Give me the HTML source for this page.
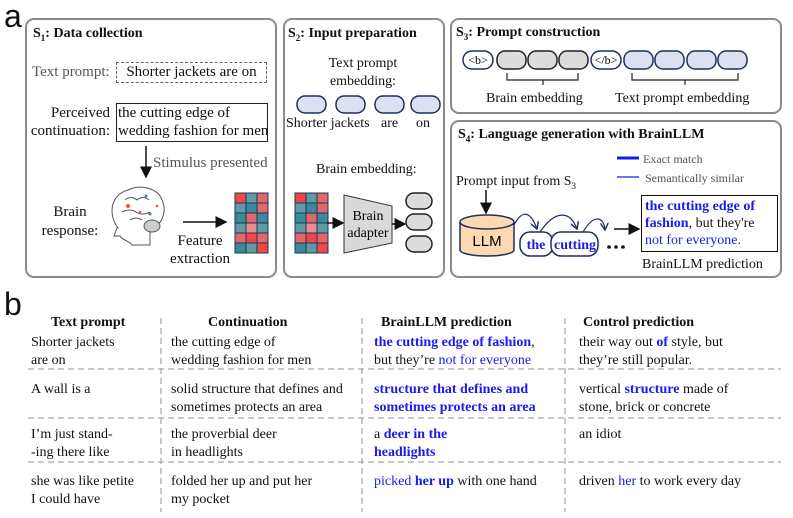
<!DOCTYPE html>
<html><head><meta charset="utf-8"><style>
body{margin:0;width:793px;height:518px;background:#fff;position:relative;overflow:hidden;font-family:"Liberation Serif",serif;color:#111}
.a{position:absolute;white-space:nowrap;font-size:14px;line-height:16px}
.p{position:absolute;border:2px solid #8a8a8a;border-radius:9px;box-sizing:border-box}
.b{font-weight:bold}
.bl{color:#1a1aee}
.g{color:#555}
.s1{font-size:15px}
</style></head><body>
<div class="a" style="left:4px;top:0px;font-family:'Liberation Sans',sans-serif;font-size:32px;line-height:32px">a</div>
<div class="a" style="left:4px;top:288px;font-family:'Liberation Sans',sans-serif;font-size:32px;line-height:32px">b</div>
<div class="p" style="left:25px;top:18px;width:252px;height:260px"></div>
<div class="p" style="left:283px;top:18px;width:162px;height:260px"></div>
<div class="p" style="left:450px;top:18px;width:332px;height:96px"></div>
<div class="p" style="left:450px;top:120px;width:332px;height:158px"></div>

<!-- S1 -->
<div class="a b" style="left:33px;top:26px">S<sub style="font-size:9px">1</sub>: Data collection</div>
<div class="a g s1" style="left:32px;top:64px">Text prompt:</div>
<div class="a s1" style="left:116px;top:62px;width:151px;height:21px;border:1.5px dashed #666;box-sizing:border-box;text-align:center;line-height:18px">Shorter jackets are on</div>
<div class="a s1" style="left:26px;top:104px;width:84px;text-align:right;line-height:18px">Perceived<br>continuation:</div>
<div class="a s1" style="left:116px;top:103px;width:152px;height:39px;border:1.5px solid #222;box-sizing:border-box;padding-left:1px;line-height:18px">the cutting edge of<br>wedding fashion for men</div>
<div class="a g s1" style="left:153px;top:155px">Stimulus presented</div>
<div class="a s1" style="left:36px;top:203px;width:68px;text-align:center;line-height:19px">Brain<br>response:</div>
<div class="a s1" style="left:170px;top:232px;width:60px;text-align:center;line-height:18px">Feature<br>extraction</div>

<!-- S2 -->
<div class="a b" style="left:288px;top:26px">S<sub style="font-size:9px">2</sub>: Input preparation</div>
<div class="a" style="left:300px;top:55px;width:126px;text-align:center;line-height:18px">Text prompt<br>embedding:</div>
<div class="a" style="left:286px;top:116px">Shorter jackets</div>
<div class="a" style="left:381px;top:116px">are</div>
<div class="a" style="left:416px;top:116px">on</div>
<div class="a" style="left:316px;top:162px">Brain embedding:</div>

<!-- S3 -->
<div class="a b" style="left:456px;top:25px">S<sub style="font-size:9px">3</sub>: Prompt construction</div>
<div class="a" style="left:486px;top:91px">Brain embedding</div>
<div class="a" style="left:615px;top:91px">Text prompt embedding</div>

<!-- S4 -->
<div class="a b" style="left:458px;top:127px">S<sub style="font-size:9px">4</sub>: Language generation with BrainLLM</div>
<div class="a g" style="left:643px;top:151px;font-size:12px">Exact match</div>
<div class="a g" style="left:645px;top:170px;font-size:12px">Semantically similar</div>
<div class="a" style="left:456px;top:174px">Prompt input from S<sub style="font-size:9px">3</sub></div>
<div class="a" style="left:641px;top:195px;width:137px;height:57px;border:1.5px solid #111;box-sizing:border-box;padding:2px 0 0 3px;line-height:17px"><span class="bl b">the cutting edge of<br>fashion</span>, but they're<br><span class="bl">not for everyone.</span></div>
<div class="a" style="left:642px;top:257px">BrainLLM prediction</div>

<svg style="position:absolute;left:0;top:0" width="793" height="518">
<defs><marker id="ar" markerWidth="8" markerHeight="8" refX="7" refY="4" orient="auto"><path d="M0,0 L8,4 L0,8 z" fill="#111"/></marker>
<marker id="ar2" markerWidth="7" markerHeight="7" refX="6" refY="3.5" orient="auto"><path d="M0,0 L6,3.5 L0,7" fill="none" stroke="#1f2f5a" stroke-width="1.2"/></marker></defs>
<line x1="146" y1="146" x2="146" y2="177" stroke="#111" stroke-width="1.5" marker-end="url(#ar)"/>
<line x1="183" y1="222" x2="226" y2="222" stroke="#111" stroke-width="1.5" marker-end="url(#ar)"/>
<!-- brain -->
<g fill="none" stroke="#555" stroke-width="1">
<path d="M118,228 C108,215 110,195 128,190 C140,184 158,188 162,200 C168,212 160,228 150,230 L150,245 L132,245 C128,240 122,240 120,236 L114,236 L117,228 Z"/>
<path d="M125,200 q6,-5 12,0 q6,-5 12,0 M122,212 q8,-4 14,0 q6,4 14,0 M130,220 q6,-4 12,0"/>
<ellipse cx="152" cy="226" rx="8" ry="6" fill="#ccc"/>
</g>
<g><circle cx="128" cy="206" r="2" fill="#f05040"/><circle cx="146" cy="196" r="1.5" fill="#3a8a99"/><circle cx="150" cy="214" r="1.5" fill="#3a8a99"/><circle cx="140" cy="212" r="1.3" fill="#f05040"/><circle cx="157" cy="206" r="1.3" fill="#f05040"/></g>
<!-- grids -->
<g stroke="#1f3555" stroke-width="1">
<rect x="235" y="193" width="11" height="10" fill="#f04848"/><rect x="246" y="193" width="11" height="10" fill="#5f9aa5"/><rect x="257" y="193" width="11" height="10" fill="#e06868"/>
<rect x="235" y="203" width="11" height="10" fill="#5f9aa5"/><rect x="246" y="203" width="11" height="10" fill="#3a8a99"/><rect x="257" y="203" width="11" height="10" fill="#e06868"/>
<rect x="235" y="213" width="11" height="10" fill="#3a8a99"/><rect x="246" y="213" width="11" height="10" fill="#e06868"/><rect x="257" y="213" width="11" height="10" fill="#3a8a99"/>
<rect x="235" y="223" width="11" height="10" fill="#5f9aa5"/><rect x="246" y="223" width="11" height="10" fill="#e89090"/><rect x="257" y="223" width="11" height="10" fill="#5f9aa5"/>
<rect x="235" y="233" width="11" height="10" fill="#e06868"/><rect x="246" y="233" width="11" height="10" fill="#f04848"/><rect x="257" y="233" width="11" height="10" fill="#e06868"/>
<rect x="235" y="243" width="11" height="10" fill="#3a8a99"/><rect x="246" y="243" width="11" height="10" fill="#5f9aa5"/><rect x="257" y="243" width="11" height="10" fill="#f04848"/>
</g>
<g stroke="#1f3555" stroke-width="1" transform="translate(60,0)">
<rect x="235" y="193" width="11" height="10" fill="#f04848"/><rect x="246" y="193" width="11" height="10" fill="#5f9aa5"/><rect x="257" y="193" width="11" height="10" fill="#e06868"/>
<rect x="235" y="203" width="11" height="10" fill="#5f9aa5"/><rect x="246" y="203" width="11" height="10" fill="#3a8a99"/><rect x="257" y="203" width="11" height="10" fill="#e06868"/>
<rect x="235" y="213" width="11" height="10" fill="#3a8a99"/><rect x="246" y="213" width="11" height="10" fill="#e06868"/><rect x="257" y="213" width="11" height="10" fill="#3a8a99"/>
<rect x="235" y="223" width="11" height="10" fill="#5f9aa5"/><rect x="246" y="223" width="11" height="10" fill="#e89090"/><rect x="257" y="223" width="11" height="10" fill="#5f9aa5"/>
<rect x="235" y="233" width="11" height="10" fill="#e06868"/><rect x="246" y="233" width="11" height="10" fill="#f04848"/><rect x="257" y="233" width="11" height="10" fill="#e06868"/>
<rect x="235" y="243" width="11" height="10" fill="#3a8a99"/><rect x="246" y="243" width="11" height="10" fill="#5f9aa5"/><rect x="257" y="243" width="11" height="10" fill="#f04848"/>
</g>
<!-- S2 pills -->
<g fill="#dde0f0" stroke="#1f2f5a" stroke-width="1.5">
<rect x="297" y="96" width="29" height="17" rx="8"/><rect x="336" y="96" width="29" height="17" rx="8"/><rect x="375" y="96" width="29" height="17" rx="8"/><rect x="411" y="96" width="29" height="17" rx="8"/>
</g>
<line x1="327" y1="223" x2="343" y2="223" stroke="#111" stroke-width="1.5" marker-end="url(#ar)"/>
<polygon points="344,195 392,206 392,243 344,253" fill="#d9d9d9" stroke="#333" stroke-width="1"/>
<text x="368" y="220" font-size="14" text-anchor="middle" font-family="Liberation Serif">Brain</text>
<text x="368" y="237" font-size="14" text-anchor="middle" font-family="Liberation Serif">adapter</text>
<line x1="392" y1="224" x2="405" y2="224" stroke="#111" stroke-width="1.5" marker-end="url(#ar)"/>
<g fill="#dcdcdc" stroke="#222" stroke-width="1.5">
<rect x="406" y="193" width="26" height="16" rx="8"/><rect x="406" y="214" width="26" height="16" rx="8"/><rect x="406" y="236" width="26" height="16" rx="8"/>
</g>
<!-- S3 -->
<g stroke-width="1.5">
<rect x="463" y="51" width="30" height="18" rx="9" fill="#fff" stroke="#1f2f5a"/>
<rect x="497" y="51" width="29" height="18" rx="8" fill="#dcdcdc" stroke="#222"/>
<rect x="528" y="51" width="29" height="18" rx="8" fill="#dcdcdc" stroke="#222"/>
<rect x="559" y="51" width="29" height="18" rx="8" fill="#dcdcdc" stroke="#222"/>
<rect x="591" y="51" width="30" height="18" rx="9" fill="#fff" stroke="#1f2f5a"/>
<rect x="624" y="51" width="29" height="18" rx="8" fill="#dde0f0" stroke="#1f2f5a"/>
<rect x="655" y="51" width="29" height="18" rx="8" fill="#dde0f0" stroke="#1f2f5a"/>
<rect x="687" y="51" width="29" height="18" rx="8" fill="#dde0f0" stroke="#1f2f5a"/>
<rect x="718" y="51" width="29" height="18" rx="8" fill="#dde0f0" stroke="#1f2f5a"/>
</g>
<text x="478" y="64" font-size="12" text-anchor="middle" font-family="Liberation Serif">&lt;b&gt;</text>
<text x="606" y="64" font-size="12" text-anchor="middle" font-family="Liberation Serif">&lt;/b&gt;</text>
<path d="M507,73 V80 H578 V73 M543,80 V85 M632,73 V80 H738 V73 M685,80 V85" fill="none" stroke="#222" stroke-width="1.2"/>
<!-- S4 -->
<line x1="617" y1="158" x2="639" y2="158" stroke="#1a1aee" stroke-width="3"/>
<line x1="617" y1="177" x2="639" y2="177" stroke="#1a1aee" stroke-width="1.2"/>
<line x1="486" y1="190" x2="486" y2="213" stroke="#111" stroke-width="1.5" marker-end="url(#ar)"/>
<path d="M460,222 V250 A27,6 0 0 0 514,250 V222" fill="#fcd9b0" stroke="#1f2f5a" stroke-width="1.5"/>
<ellipse cx="487" cy="222" rx="27" ry="7" fill="#fcd9b0" stroke="#1f2f5a" stroke-width="1.5"/>
<text x="487" y="246" font-size="15" text-anchor="middle" font-family="Liberation Sans">LLM</text>
<rect x="520" y="232" width="33" height="24" rx="10" fill="#fff" stroke="#1f2f5a" stroke-width="1.5"/>
<rect x="551" y="232" width="47" height="24" rx="10" fill="#fff" stroke="#1f2f5a" stroke-width="1.5"/>
<text x="536" y="249" font-size="14" font-weight="bold" fill="#1a1aee" text-anchor="middle" font-family="Liberation Serif">the</text>
<text x="575" y="249" font-size="14" font-weight="bold" fill="#1a1aee" text-anchor="middle" font-family="Liberation Serif">cutting</text>
<path d="M514,225 C522,210 530,210 537,229" fill="none" stroke="#1f2f5a" stroke-width="1.2" marker-end="url(#ar2)"/>
<path d="M540,232 C555,210 570,210 577,229" fill="none" stroke="#1f2f5a" stroke-width="1.2" marker-end="url(#ar2)"/>
<path d="M583,232 C595,212 604,218 605,230" fill="none" stroke="#1f2f5a" stroke-width="1.2" marker-end="url(#ar2)"/>
<circle cx="609" cy="247" r="1.8" fill="#111"/><circle cx="616" cy="247" r="1.8" fill="#111"/><circle cx="623" cy="247" r="1.8" fill="#111"/>
<line x1="614" y1="229" x2="639" y2="229" stroke="#111" stroke-width="1.5" marker-end="url(#ar)"/>
<!-- table lines -->
<g stroke="#aaa" stroke-width="1.3" stroke-dasharray="6,4">
<line x1="161" y1="318" x2="161" y2="512"/><line x1="362" y1="318" x2="362" y2="512"/><line x1="565" y1="318" x2="565" y2="512"/>
<line x1="28" y1="369" x2="781" y2="369"/><line x1="28" y1="418" x2="781" y2="418"/><line x1="28" y1="462" x2="781" y2="462"/>
</g>
</svg>

<!-- table -->
<div class="a b" style="left:51px;top:315px">Text prompt</div>
<div class="a b" style="left:208px;top:315px">Continuation</div>
<div class="a b" style="left:381px;top:315px">BrainLLM prediction</div>
<div class="a b" style="left:583px;top:315px">Control prediction</div>

<div class="a" style="left:31px;top:334px;line-height:18px">Shorter jackets<br>are on</div>
<div class="a" style="left:171px;top:334px;line-height:18px">the cutting edge of<br>wedding fashion for men</div>
<div class="a" style="left:374px;top:334px;line-height:18px"><span class="bl b">the cutting edge of fashion</span>,<br>but they’re <span class="bl">not for everyone</span></div>
<div class="a" style="left:579px;top:334px;line-height:18px">their way out <span class="bl b">of</span> style, but<br>they’re still popular.</div>

<div class="a" style="left:31px;top:381px;line-height:18px">A wall is a</div>
<div class="a" style="left:171px;top:381px;line-height:18px">solid structure that defines and<br>sometimes protects an area</div>
<div class="a bl b" style="left:374px;top:381px;line-height:18px">structure that defines and<br>sometimes protects an area</div>
<div class="a" style="left:579px;top:381px;line-height:18px">vertical <span class="bl b">structure</span> made of<br>stone, brick or concrete</div>

<div class="a" style="left:31px;top:426px;line-height:18px">I’m just stand-<br>-ing there like</div>
<div class="a" style="left:171px;top:426px;line-height:18px">the proverbial deer<br>in headlights</div>
<div class="a" style="left:374px;top:426px;line-height:18px">a <span class="bl b">deer in the<br>headlights</span></div>
<div class="a" style="left:579px;top:426px;line-height:18px">an idiot</div>

<div class="a" style="left:31px;top:473px;line-height:18px">she was like petite<br>I could have</div>
<div class="a" style="left:171px;top:473px;line-height:18px">folded her up and put her<br>my pocket</div>
<div class="a" style="left:374px;top:473px;line-height:18px"><span class="bl">picked</span> <span class="bl b">her up</span> with one hand</div>
<div class="a" style="left:579px;top:473px;line-height:18px">driven <span class="bl">her</span> to work every day</div>
</body></html>
